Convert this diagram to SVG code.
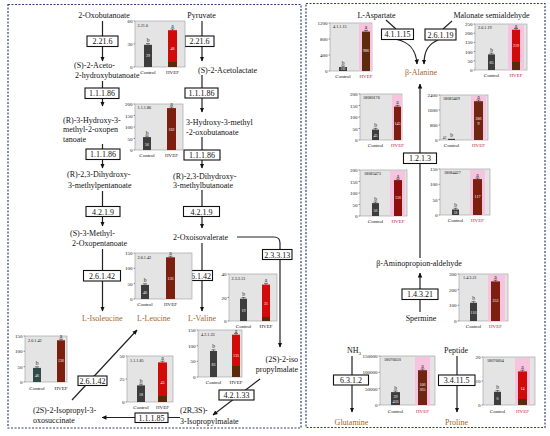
<svg xmlns="http://www.w3.org/2000/svg" width="550" height="436" viewBox="0 0 550 436">
<defs>
<marker id="ah" viewBox="0 0 10 10" refX="9" refY="5" markerWidth="5" markerHeight="5" markerUnits="userSpaceOnUse" orient="auto"><path d="M0,0.5 L10,5 L0,9.5 z" fill="#111"/></marker>
<style>
text{font-family:"Liberation Serif","Times New Roman",serif;fill:#111}
.t{font-size:8px}
.m{text-anchor:middle}
.p{fill:#a5652e}
.bx{fill:#fff;stroke:#111;stroke-width:1.1}
.bl{font-size:8px;text-anchor:middle}
.ln{fill:none;stroke:#222;stroke-width:1.2}
.fr{fill:none;stroke:#34407a;stroke-width:1.2;stroke-dasharray:2 1.5}
.cb{fill:#e4e4e4;stroke:#9a9a9a;stroke-width:0.6}
.tm{stroke:#333;stroke-width:0.5;fill:none}
.tk{font-size:5px;text-anchor:end}
.el{font-size:4.2px}
.xl{font-size:5px;text-anchor:middle}
.sg{font-size:5.5px;text-anchor:middle}
.vl{font-size:4px;fill:#fff;text-anchor:middle}
.sm{font-size:3.5px;text-anchor:middle}
.bc{fill:#3d3d3d}
.bt{fill:#2f4a47}
.hr{fill:#d10a0a}
.hb{fill:#7c1f0e}
.hd{fill:#8e0e0e}
.dk{fill:#5a2a0c}
.pk{fill:#f6c4de}
.eb{stroke:#111;stroke-width:0.5;fill:none}
.hv{fill:#c4103c}
</style>
</defs>

<g id="frames">
<rect class="fr" x="8" y="4.5" width="293" height="423.5"/>
<rect class="fr" x="306" y="3.5" width="239" height="424"/>
</g>

<g id="connectors">
<path class="ln" d="M102.5,21V61" marker-end="url(#ah)"/>
<path class="ln" d="M102.5,81V106" marker-end="url(#ah)"/>
<path class="ln" d="M102.5,144V168" marker-end="url(#ah)"/>
<path class="ln" d="M102.5,191V226" marker-end="url(#ah)"/>
<path class="ln" d="M102.5,249V311" marker-end="url(#ah)"/>
<path class="ln" d="M202,21V61" marker-end="url(#ah)"/>
<path class="ln" d="M202,75V112" marker-end="url(#ah)"/>
<path class="ln" d="M202,137V168" marker-end="url(#ah)"/>
<path class="ln" d="M202,190V228" marker-end="url(#ah)"/>
<path class="ln" d="M202,243V311" marker-end="url(#ah)"/>
<path class="ln" d="M237,237H274Q280,237 280,243V347" marker-end="url(#ah)"/>
<path class="ln" d="M260,379L213,415" marker-end="url(#ah)"/>
<path class="ln" d="M180,417.5H102" marker-end="url(#ah)"/>
<path class="ln" d="M72,400L137,330" marker-end="url(#ah)"/>
<path class="ln" d="M386,20L396,29"/>
<path class="ln" d="M397,39.5C408,42 416,48 417,64" marker-end="url(#ah)"/>
<path class="ln" d="M452,21L443,29"/>
<path class="ln" d="M438,40C429,44 424,50 424,64" marker-end="url(#ah)"/>
<path class="ln" d="M420,258V84" marker-end="url(#ah)"/>
<path class="ln" d="M420,312V273" marker-end="url(#ah)"/>
<path class="ln" d="M352,356V412" marker-end="url(#ah)"/>
<path class="ln" d="M457,356V412" marker-end="url(#ah)"/>
</g>

<g id="enzymes">
<g id="e-2216-l"><rect class="bx" x="87" y="36" width="31" height="10.5"/><text class="bl" x="102.5" y="44.3">2.21.6</text></g>
<g id="e-2216-r"><rect class="bx" x="185" y="36" width="29" height="10.5"/><text class="bl" x="199.5" y="44.3">2.21.6</text></g>
<g id="e-11186-l1"><rect class="bx" x="85" y="88" width="34" height="10.5"/><text class="bl" x="102" y="96.3">1.1.1.86</text></g>
<g id="e-11186-r1"><rect class="bx" x="185" y="88" width="33" height="10"/><text class="bl" x="201.5" y="96">1.1.1.86</text></g>
<g id="e-11186-l2"><rect class="bx" x="86" y="149" width="34" height="10.5"/><text class="bl" x="103" y="157.3">1.1.1.86</text></g>
<g id="e-11186-r2"><rect class="bx" x="184" y="150" width="36" height="10"/><text class="bl" x="202" y="158">1.1.1.86</text></g>
<g id="e-4219-l"><rect class="bx" x="86" y="206.5" width="34" height="10"/><text class="bl" x="103" y="214.5">4.2.1.9</text></g>
<g id="e-4219-r"><rect class="bx" x="183.5" y="206.5" width="36" height="10"/><text class="bl" x="201.5" y="214.5">4.2.1.9</text></g>
<g id="e-26142-l"><rect class="bx" x="83.5" y="270.5" width="37" height="10.5"/><text class="bl" x="102" y="278.8">2.6.1.42</text></g>
<g id="e-26142-r"><rect class="bx" x="183.5" y="270.5" width="29" height="10"/><text class="bl" x="198" y="278.5">2.6.1.42</text></g>
<g id="e-23313"><rect class="bx" x="262.5" y="249.5" width="29.5" height="10"/><text class="bl" x="277.3" y="257.5">2.3.3.13</text></g>
<g id="e-42133"><rect class="bx" x="219" y="390" width="35" height="10"/><text class="bl" x="236.5" y="398">4.2.1.33</text></g>
<g id="e-11185"><rect class="bx" x="135" y="413" width="33" height="9.5"/><text class="bl" x="151.5" y="420.5">1.1.1.85</text></g>
<g id="e-26142-b"><rect class="bx" x="78" y="376" width="29" height="9.5"/><text class="bl" x="92.5" y="383.7">2.6.1.42</text></g>
<g id="e-41115"><rect class="bx" x="381.5" y="29" width="32" height="10.5"/><text class="bl" x="397.5" y="37.3">4.1.1.15</text></g>
<g id="e-26119"><rect class="bx" x="425" y="29" width="31" height="11"/><text class="bl" x="440.5" y="37.5">2.6.1.19</text></g>
<g id="e-1213"><rect class="bx" x="403.5" y="153" width="33" height="10.5"/><text class="bl" x="420" y="161.3">1.2.1.3</text></g>
<g id="e-14321"><rect class="bx" x="402" y="289" width="36" height="10.5"/><text class="bl" x="420" y="297.3">1.4.3.21</text></g>
<g id="e-6312"><rect class="bx" x="333.5" y="375" width="35" height="10"/><text class="bl" x="351" y="383">6.3.1.2</text></g>
<g id="e-34115"><rect class="bx" x="438.5" y="375" width="36.5" height="10.5"/><text class="bl" x="456.7" y="383.3">3.4.11.5</text></g>
</g>

<g id="metabolites">
<text id="m-oxobut" class="t m" x="104" y="18">2-Oxobutanoate</text>
<text id="m-pyr" class="t m" x="201.5" y="18">Pyruvate</text>
<text id="m-aceto" class="t" x="74" y="67.5">(S)-2-Aceto-<tspan x="75" y="78">2-hydroxybutanoate</tspan></text>
<text id="m-acetolac" class="t" x="198" y="72.5">(S)-2-Acetolactate</text>
<text id="m-hmo" class="t" x="63" y="122.5">(R)-3-Hydroxy-3-<tspan x="63" y="132">methyl-2-oxopen</tspan><tspan x="63" y="141.5">tanoate</tspan></text>
<text id="m-hmob" class="t" x="186" y="124.5">3-Hydroxy-3-methyl<tspan x="186" y="134.5">-2-oxobutanoate</tspan></text>
<text id="m-dhmp" class="t" x="67" y="177">(R)-2,3-Dihydroxy-<tspan x="68" y="187.5">3-methylpentanoate</tspan></text>
<text id="m-dhmb" class="t" x="173" y="178.5">(R)-2,3-Dihydroxy-<tspan x="173" y="188">3-methylbutanoate</tspan></text>
<text id="m-smo" class="t" x="70" y="236">(S)-3-Methyl-<tspan x="72" y="246">2-Oxopentanoate</tspan></text>
<text id="m-oxoiso" class="t" x="173" y="240">2-Oxoisovalerate</text>
<text id="m-ile" class="t p" x="82" y="321">L-Isoleucine</text>
<text id="m-leu" class="t p" x="137" y="321">L-Leucine</text>
<text id="m-val" class="t p" x="188" y="321">L-Valine</text>
<text id="m-ipm" class="t" x="298" y="362" text-anchor="end">(2S)-2-iso<tspan x="298" y="372">propylmalate</tspan></text>
<text id="m-3ipm" class="t" x="180" y="413">(2R,3S)-<tspan x="180" y="424">3-Isopropylmalate</tspan></text>
<text id="m-oxos" class="t" x="33" y="413">(2S)-2-Isopropyl-3-<tspan x="33" y="423">oxosuccinate</tspan></text>
<text id="m-asp" class="t m" x="376.5" y="18">L-Aspartate</text>
<text id="m-mal" class="t m" x="491.5" y="18">Malonate semialdehyde</text>
<text id="m-bala" class="t m p" x="421" y="75">β-Alanine</text>
<text id="m-bapa" class="t m" x="419" y="266">β-Aminopropion-aldehyde</text>
<text id="m-sperm" class="t m" x="421" y="321">Spermine</text>
<text id="m-nh3" class="t" x="347" y="353">NH<tspan dy="2" font-size="5">3</tspan></text>
<text id="m-gln" class="t m p" x="351.5" y="425">Glutamine</text>
<text id="m-pep" class="t m" x="456" y="353">Peptide</text>
<text id="m-pro" class="t m p" x="456.5" y="425">Proline</text>
</g>

<g id="chart-2216">
<rect class="cb" x="135" y="21" width="50" height="46"/>
<path class="tm" d="M133.5,21H135M133.5,44H135M133.5,67H135"/>
<text class="tk" x="132.5" y="23">60</text><text class="tk" x="132.5" y="46">30</text><text class="tk" x="132.5" y="69">0</text>
<text class="el" x="137.5" y="26.5">2.21.6</text>
<rect class="bc" x="144" y="44.8" width="8" height="22.2"/>
<rect class="hr" x="168" y="30.2" width="9" height="36.8"/><rect class="dk" x="168" y="62" width="9" height="5"/>
<path class="eb" d="M146,43.6H150M148,43.6V44.8M170.5,29H174.5M172.5,29V30.2"/>
<text class="sg" x="148" y="42">b</text><text class="sg" x="172.5" y="27.5">a</text>
<text class="vl" x="148" y="57">29</text><text class="vl" x="172.5" y="50">48</text>
<text class="xl" x="148" y="74">Control</text><text class="xl" x="172.5" y="74">HVEF</text>
</g>

<g id="chart-11186">
<rect class="cb" x="135" y="104" width="48" height="46"/>
<path class="tm" d="M133.5,104H135M133.5,115.5H135M133.5,127H135M133.5,138.5H135M133.5,150H135"/>
<text class="tk" x="132.5" y="106">200</text><text class="tk" x="132.5" y="117.5">150</text><text class="tk" x="132.5" y="129">100</text><text class="tk" x="132.5" y="140.5">50</text><text class="tk" x="132.5" y="152">0</text>
<text class="el" x="137.5" y="109">1.1.1.86</text>
<rect class="bc" x="143" y="137.1" width="8" height="12.9"/>
<rect class="hb" x="167" y="108.1" width="9" height="41.9"/>
<path class="eb" d="M145,136H149M147,136V137.1M169.5,107H173.5M171.5,107V108.1"/>
<text class="sg" x="147" y="134.5">b</text><text class="sg" x="171.5" y="105.8">a</text>
<text class="vl" x="147" y="146">56</text><text class="vl" x="171.5" y="131">182</text>
<text class="xl" x="147" y="157">Control</text><text class="xl" x="171.5" y="157">HVEF</text>
</g>

<g id="chart-26142-u">
<rect class="cb" x="135" y="253" width="57" height="46"/>
<path class="tm" d="M133.5,253H135M133.5,268.3H135M133.5,283.7H135M133.5,299H135"/>
<text class="tk" x="132.5" y="255">150</text><text class="tk" x="132.5" y="270.3">100</text><text class="tk" x="132.5" y="285.7">50</text><text class="tk" x="132.5" y="301">0</text>
<text class="el" x="137.5" y="258.5">2.6.1.42</text>
<rect class="bc" x="141" y="284.9" width="8" height="14.1"/>
<rect class="hb" x="166" y="257.3" width="9" height="41.7"/>
<path class="eb" d="M143,283.8H147M145,283.8V284.9M168.5,256.2H172.5M170.5,256.2V257.3"/>
<text class="sg" x="145" y="282.3">b</text><text class="sg" x="170.5" y="255">a</text>
<text class="vl" x="145" y="294">46</text><text class="vl" x="170.5" y="280">136</text>
<text class="xl" x="145" y="306">Control</text><text class="xl" x="170.5" y="306">HVEF</text>
</g>

<g id="chart-23313">
<rect class="cb" x="229" y="274" width="48" height="47"/>
<path class="tm" d="M227.5,274H229M227.5,297.5H229M227.5,321H229"/>
<text class="tk" x="226.5" y="276">40</text><text class="tk" x="226.5" y="299.5">20</text><text class="tk" x="226.5" y="323">0</text>
<text class="el" x="231.5" y="279.5">2.3.3.13</text>
<rect class="bc" x="240" y="298.7" width="7" height="22.3"/>
<rect class="hr" x="262" y="284.6" width="8" height="36.4"/><rect class="dk" x="262" y="317" width="8" height="4"/>
<path class="eb" d="M241.5,297.5H245.5M243.5,297.5V298.7M264,283.4H268M266,283.4V284.6"/>
<text class="sg" x="243.5" y="296">b</text><text class="sg" x="266" y="282">a</text>
<text class="vl" x="243.5" y="312">19</text><text class="vl" x="266" y="305">31</text>
<text class="xl" x="243.5" y="328">Control</text><text class="xl" x="266" y="328">HVEF</text>
</g>

<g id="chart-42133">
<rect class="cb" x="198" y="330" width="44" height="47"/>
<path class="tm" d="M196.5,330H198M196.5,345.7H198M196.5,361.3H198M196.5,377H198"/>
<text class="tk" x="195.5" y="332">150</text><text class="tk" x="195.5" y="347.7">100</text><text class="tk" x="195.5" y="363.3">50</text><text class="tk" x="195.5" y="379">0</text>
<text class="el" x="201" y="336">4.2.1.33</text>
<rect class="bc" x="210" y="351" width="7" height="26"/>
<rect class="hr" x="232" y="334.7" width="8" height="42.3"/><rect class="dk" x="232" y="366" width="8" height="11"/>
<path class="eb" d="M211.5,349.8H215.5M213.5,349.8V351M234,333.5H238M236,333.5V334.7"/>
<text class="sg" x="213.5" y="348">b</text><text class="sg" x="236" y="332.5">a</text>
<text class="vl" x="213.5" y="366">83</text><text class="vl" x="236" y="357">135</text>
<text class="xl" x="213.5" y="384">Control</text><text class="xl" x="236" y="384">HVEF</text>
</g>

<g id="chart-26142-b">
<rect class="cb" x="25" y="336" width="42" height="46"/>
<path class="tm" d="M23.5,336H25M23.5,351.3H25M23.5,366.7H25M23.5,382H25"/>
<text class="tk" x="22.5" y="338">150</text><text class="tk" x="22.5" y="353.3">100</text><text class="tk" x="22.5" y="368.7">50</text><text class="tk" x="22.5" y="384">0</text>
<text class="el" x="28" y="341.5">2.6.1.42</text>
<rect class="bt" x="33" y="367.9" width="8" height="14.1"/>
<rect class="hb" x="57" y="340.3" width="8" height="41.7"/>
<path class="eb" d="M35,366.8H39M37,366.8V367.9M59,339.2H63M61,339.2V340.3"/>
<text class="sg" x="37" y="365.3">b</text><text class="sg" x="61" y="338.3">a</text>
<text class="vl" x="37" y="377">46</text><text class="vl" x="61" y="362">136</text>
<text class="xl" x="37" y="390">Control</text><text class="xl" x="61" y="390">HVEF</text>
</g>

<g id="chart-11185">
<rect class="cb" x="127" y="356" width="46" height="46"/>
<path class="tm" d="M125.5,356H127M125.5,379H127M125.5,402H127"/>
<text class="tk" x="124.5" y="358">50</text><text class="tk" x="124.5" y="381">25</text><text class="tk" x="124.5" y="404">0</text>
<text class="el" x="130" y="361.5">1.1.1.85</text>
<rect class="bc" x="137" y="385.4" width="8" height="16.6"/>
<rect class="hr" x="158" y="362.4" width="9" height="39.6"/><rect class="dk" x="158" y="396" width="9" height="6"/>
<path class="eb" d="M139,384.2H143M141,384.2V385.4M160.5,361.2H164.5M162.5,361.2V362.4"/>
<text class="sg" x="141" y="382.7">b</text><text class="sg" x="162.5" y="360.3">a</text>
<text class="vl" x="141" y="396">18</text><text class="vl" x="162.5" y="384">43</text>
<text class="xl" x="141" y="409">Control</text><text class="xl" x="162.5" y="409">HVEF</text>
</g>

<g id="chart-41115">
<rect class="cb" x="330" y="23" width="42" height="48"/>
<rect class="pk" x="359" y="24" width="13" height="47"/>
<path class="tm" d="M328.5,23H330M328.5,39H330M328.5,55H330M328.5,71H330"/>
<text class="tk" x="327.5" y="25">1200</text><text class="tk" x="327.5" y="41">800</text><text class="tk" x="327.5" y="57">400</text><text class="tk" x="327.5" y="73">0</text>
<text class="el" x="333" y="28">4.1.1.15</text>
<rect class="bc" x="339" y="67" width="8" height="4"/>
<rect class="hb" x="362" y="31.6" width="8" height="39.4" style="fill:#5e2a0e"/>
<path class="eb" d="M341,66H345M343,66V67M364,30.4H368M366,30.4V31.6"/>
<text class="sg" x="343" y="64.5">b</text><text class="sg" x="366" y="29.3">a</text>
<text class="vl" x="343" y="70.3" style="font-size:3.2px">100</text><text class="vl" x="366" y="52">986</text>
<text class="xl" x="343" y="78">Control</text><text class="xl hv" x="366" y="78">HVEF</text>
</g>

<g id="chart-18080176">
<rect class="cb" x="360" y="94" width="42" height="46"/>
<rect class="pk" x="392" y="95" width="10" height="45"/>
<path class="tm" d="M358.5,94H360M358.5,105.5H360M358.5,117H360M358.5,128.5H360M358.5,140H360"/>
<text class="tk" x="357.5" y="96">200</text><text class="tk" x="357.5" y="107.5">150</text><text class="tk" x="357.5" y="119">100</text><text class="tk" x="357.5" y="130.5">50</text><text class="tk" x="357.5" y="142">0</text>
<text class="el" x="363" y="99">18080176</text>
<rect class="bc" x="372" y="129.6" width="7" height="10.4"/>
<rect class="hb" x="394" y="106.6" width="7" height="33.4"/>
<path class="eb" d="M373.5,128.4H377.5M375.5,128.4V129.6M395.5,105.4H399.5M397.5,105.4V106.6"/>
<text class="sg" x="375.5" y="127">b</text><text class="sg" x="397.5" y="104">a</text>
<text class="vl" x="375.5" y="137">45</text><text class="vl" x="397.5" y="125">145</text>
<text class="xl" x="375.5" y="147">Control</text><text class="xl hv" x="397.5" y="147">HVEF</text>
</g>

<g id="chart-18083469">
<rect class="cb" x="440" y="95" width="48" height="45"/>
<rect class="pk" x="471" y="96" width="15" height="44"/>
<path class="tm" d="M438.5,95H440M438.5,110H440M438.5,125H440M438.5,140H440"/>
<text class="tk" x="437.5" y="97">2400</text><text class="tk" x="437.5" y="112">1600</text><text class="tk" x="437.5" y="127">800</text><text class="tk" x="437.5" y="142">0</text>
<text class="el" x="443" y="100">18083469</text>
<rect class="bc" x="448" y="138.8" width="7" height="1.2"/>
<rect class="hb" x="474" y="101.2" width="9" height="38.8" style="fill:#6e2610"/>
<path class="eb" d="M476.5,100H480.5M478.5,100V101.2"/>
<text class="sg" x="451.5" y="136.5">b</text><text class="sm" x="444.5" y="138.5">43</text><text class="sg" x="478.5" y="99">a</text>
<text class="vl" x="478.5" y="120">206</text><text class="vl" x="478.5" y="124.5">9</text>
<text class="xl" x="451.5" y="147">Control</text><text class="xl hv" x="478.5" y="147">HVEF</text>
</g>

<g id="chart-26119">
<rect class="cb" x="475" y="24" width="52" height="46"/>
<rect class="pk" x="508" y="25" width="16" height="45"/>
<path class="tm" d="M473.5,24H475M473.5,33.2H475M473.5,42.4H475M473.5,51.6H475M473.5,60.8H475M473.5,70H475"/>
<text class="tk" x="472.5" y="26">250</text><text class="tk" x="472.5" y="35.2">200</text><text class="tk" x="472.5" y="44.4">150</text><text class="tk" x="472.5" y="53.6">100</text><text class="tk" x="472.5" y="62.8">50</text><text class="tk" x="472.5" y="72">0</text>
<text class="el" x="478" y="29">2.6.1.19</text>
<rect class="bc" x="488" y="54.4" width="7" height="15.6"/>
<rect class="hr" x="512" y="29.7" width="8" height="40.3"/><rect class="dk" x="512" y="62" width="8" height="8"/>
<path class="eb" d="M489.5,53.2H493.5M491.5,53.2V54.4M514,28.5H518M516,28.5V29.7"/>
<text class="sg" x="491.5" y="51.7">b</text><text class="sg" x="516" y="27.5">a</text>
<text class="vl" x="491.5" y="64">85</text><text class="vl" x="516" y="47">219</text>
<text class="xl" x="491.5" y="77">Control</text><text class="xl hv" x="516" y="77">HVEF</text>
</g>

<g id="chart-18083473">
<rect class="cb" x="360" y="170" width="47" height="46"/>
<rect class="pk" x="390" y="171" width="15" height="45"/>
<path class="tm" d="M358.5,170H360M358.5,181.5H360M358.5,193H360M358.5,204.5H360M358.5,216H360"/>
<text class="tk" x="357.5" y="172">200</text><text class="tk" x="357.5" y="183.5">150</text><text class="tk" x="357.5" y="195">100</text><text class="tk" x="357.5" y="206.5">50</text><text class="tk" x="357.5" y="218">0</text>
<text class="el" x="364" y="175">18083473</text>
<rect class="bc" x="372" y="203.1" width="7" height="12.9"/>
<rect class="hd" x="394" y="180.1" width="8" height="35.9"/>
<path class="eb" d="M373.5,202H377.5M375.5,202V203.1M396,179H400M398,179V180.1"/>
<text class="sg" x="375.5" y="200.5">b</text><text class="sg" x="398" y="177.8">a</text>
<text class="vl" x="375.5" y="212">56</text><text class="vl" x="398" y="199">156</text>
<text class="xl" x="375.5" y="223">Control</text><text class="xl hv" x="398" y="223">HVEF</text>
</g>

<g id="chart-18084427">
<rect class="cb" x="440" y="169" width="50" height="46"/>
<rect class="pk" x="470" y="170" width="15" height="45"/>
<path class="tm" d="M438.5,169H440M438.5,184.3H440M438.5,199.7H440M438.5,215H440"/>
<text class="tk" x="437.5" y="171">150</text><text class="tk" x="437.5" y="186.3">100</text><text class="tk" x="437.5" y="201.7">50</text><text class="tk" x="437.5" y="217">0</text>
<text class="el" x="444" y="174">18084427</text>
<rect class="bc" x="452" y="209.5" width="7" height="5.5"/>
<rect class="hb" x="473" y="179.1" width="9" height="35.9"/>
<path class="eb" d="M453.5,208.3H457.5M455.5,208.3V209.5M475.5,178H479.5M477.5,178V179.1"/>
<text class="sg" x="455.5" y="206.8">b</text><text class="sg" x="477.5" y="176.8">a</text>
<text class="vl" x="455.5" y="213.8" style="font-size:3.4px">18</text><text class="vl" x="477.5" y="198">117</text>
<text class="xl" x="455.5" y="222">Control</text><text class="xl hv" x="477.5" y="222">HVEF</text>
</g>

<g id="chart-14321">
<rect class="cb" x="459" y="274" width="49" height="47"/>
<rect class="pk" x="488" y="275" width="17" height="46"/>
<path class="tm" d="M457.5,274H459M457.5,289.7H459M457.5,305.3H459M457.5,321H459"/>
<text class="tk" x="456.5" y="276">300</text><text class="tk" x="456.5" y="291.7">200</text><text class="tk" x="456.5" y="307.3">100</text><text class="tk" x="456.5" y="323">0</text>
<text class="el" x="463" y="279">1.4.3.21</text>
<rect class="bc" x="470" y="302.8" width="7" height="18.2"/>
<rect class="hb" x="491" y="281.4" width="9" height="39.6"/>
<path class="eb" d="M471.5,301.6H475.5M473.5,301.6V302.8M493.5,280.2H497.5M495.5,280.2V281.4"/>
<text class="sg" x="473.5" y="300">b</text><text class="sg" x="495.5" y="279">a</text>
<text class="vl" x="473.5" y="314">116</text><text class="vl" x="495.5" y="302">253</text>
<text class="xl" x="473.5" y="328">Control</text><text class="xl hv" x="495.5" y="328">HVEF</text>
</g>

<g id="chart-18076650">
<rect class="cb" x="380" y="356" width="55" height="49"/>
<rect class="pk" x="415" y="357" width="15" height="48"/>
<path class="tm" d="M378.5,356H380M378.5,372.3H380M378.5,388.7H380M378.5,405H380"/>
<text class="tk" x="377.5" y="358">150000</text><text class="tk" x="377.5" y="374.3">100000</text><text class="tk" x="377.5" y="390.7">50000</text><text class="tk" x="377.5" y="407">0</text>
<text class="el" x="384" y="361">18076650</text>
<rect class="bc" x="391" y="392.1" width="9" height="12.9"/>
<rect class="hb" x="418" y="370.2" width="9" height="34.8" style="fill:#6e2610"/>
<path class="eb" d="M393.5,391H397.5M395.5,391V392.1M420.5,369H424.5M422.5,369V370.2"/>
<text class="sg" x="395.5" y="389.5">b</text><text class="sg" x="422.5" y="367.5">a</text>
<text class="vl" x="395.5" y="398">39</text><text class="vl" x="395.5" y="402.5">456</text>
<text class="vl" x="422.5" y="386">106</text><text class="vl" x="422.5" y="390.5">365</text>
<text class="xl" x="395.5" y="413">Control</text><text class="xl hv" x="422.5" y="413">HVEF</text>
</g>

<g id="chart-18076604">
<rect class="cb" x="483" y="357" width="52" height="48"/>
<rect class="pk" x="515" y="358" width="15" height="47"/>
<path class="tm" d="M481.5,357H483M481.5,381H483M481.5,405H483"/>
<text class="tk" x="480.5" y="359">20</text><text class="tk" x="480.5" y="383">10</text><text class="tk" x="480.5" y="407">0</text>
<text class="el" x="487" y="362">18076604</text>
<rect class="bc" x="494" y="391.8" width="7" height="13.2"/>
<rect class="hr" x="518" y="371.4" width="9" height="33.6"/><rect class="dk" x="518" y="399" width="9" height="6"/>
<path class="eb" d="M495.5,390.6H499.5M497.5,390.6V391.8M520.5,370.2H524.5M522.5,370.2V371.4"/>
<text class="sg" x="497.5" y="389">b</text><text class="sg" x="522.5" y="368.8">a</text>
<text class="vl" x="497.5" y="400">6</text><text class="vl" x="522.5" y="390">14</text>
<text class="xl" x="497.5" y="413">Control</text><text class="xl hv" x="522.5" y="413">HVEF</text>
</g>
</svg>
